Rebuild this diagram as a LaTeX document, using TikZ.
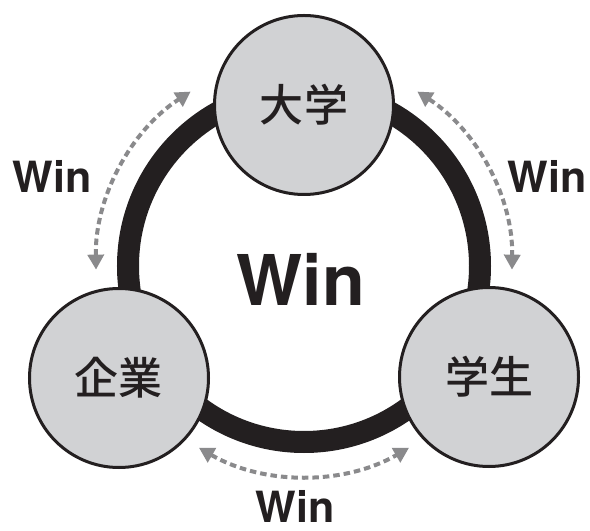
\documentclass[tikz,border=0pt]{standalone}
\usepackage{fontspec}
\setmainfont{TeX Gyre Heros}
\newfontfamily\jp{Noto Sans CJK JP Medium}
\usetikzlibrary{arrows.meta}

\definecolor{ringblack}{HTML}{231F20}
\definecolor{partyfill}{HTML}{D1D2D4}
\definecolor{arrowgray}{HTML}{8A8A8C}

\begin{document}
\begin{tikzpicture}[x=1bp,y=1bp,
  party/.style={circle,draw=ringblack,line width=3bp,fill=partyfill,
    minimum size=179bp,inner sep=0pt,font=\jp\fontsize{44bp}{44bp}\selectfont,text=ringblack},
  winarrow/.style={arrowgray,line width=4bp,dash pattern=on 6.5bp off 4bp,
    {Triangle[length=15bp,width=16bp]}-{Triangle[length=15bp,width=16bp]}},
  winlabel/.style={font=\bfseries\fontsize{43bp}{43bp}\selectfont,text=ringblack}]

\useasboundingbox (-304,-265) rectangle (286,266);

\draw [ringblack,line width=22bp] (0,0) circle [radius=176];

\node [party] (daigaku) at (0,161) {大学};
\node [party] (kigyo) at (-185,-112) {企業};
\node [party] (gakusei) at (185,-111) {学生};

\draw [winarrow] (181:208) arc [start angle=181,end angle=123,radius=208];
\draw [winarrow] (57:208) arc [start angle=57,end angle=-1,radius=208];
\draw [winarrow] (240:210) arc [start angle=240,end angle=300,radius=210];

\node [winlabel] (winl) at (-252,90) {Win};
\node [winlabel] (winr) at (243,90) {Win};
\node [winlabel] (winb) at (-9,-240) {Win};
\node [winlabel,font=\bfseries\fontsize{70bp}{70bp}\selectfont] (winc) at (-3,-13) {Win};
\end{tikzpicture}
\end{document}
